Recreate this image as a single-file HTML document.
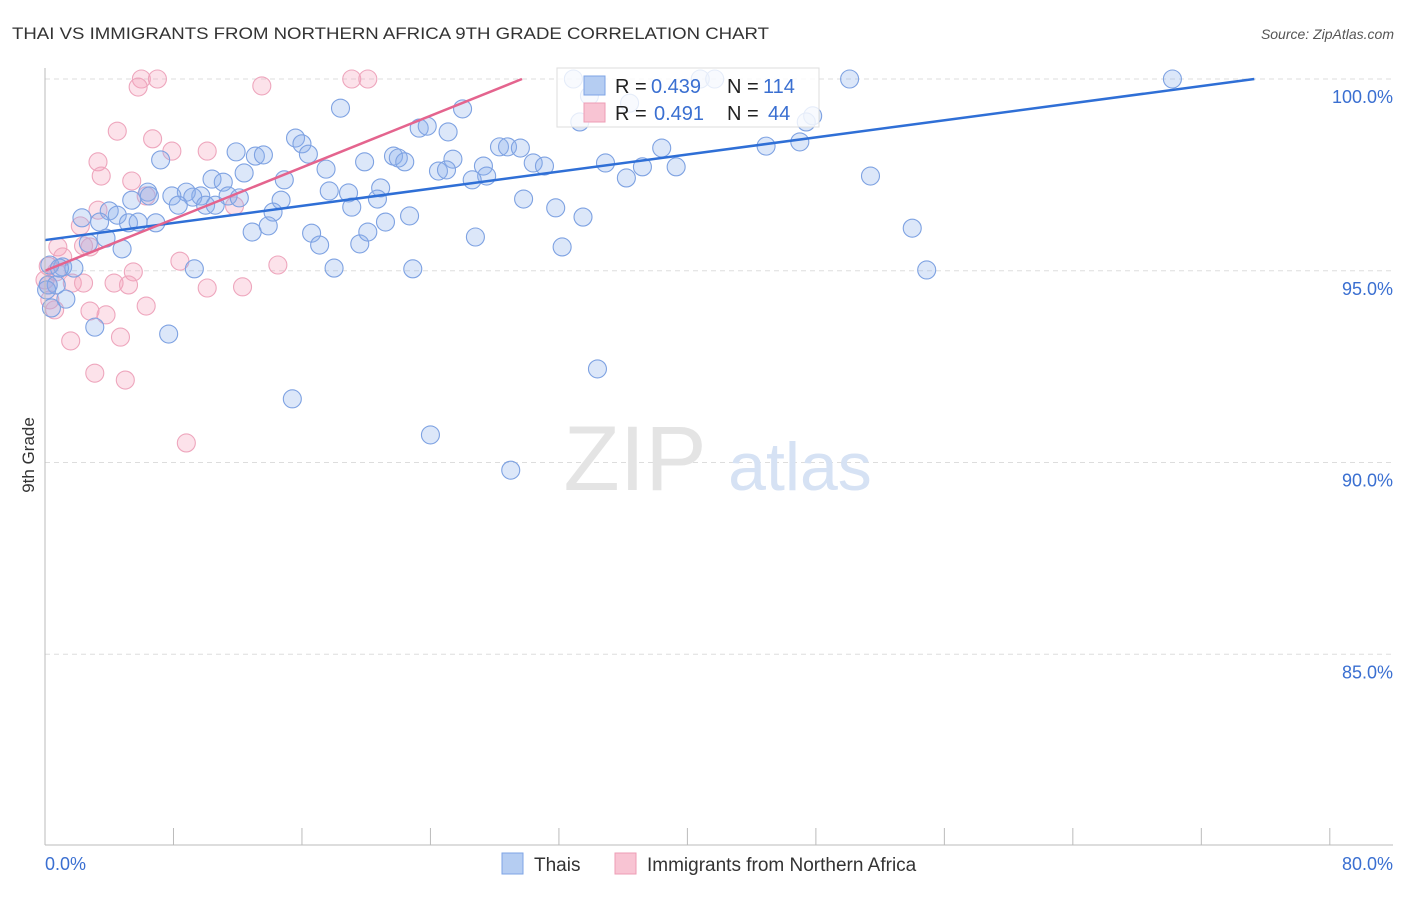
<!DOCTYPE html>
<html><head><meta charset="utf-8"><style>
body{margin:0;background:#fff;font-family:"Liberation Sans",sans-serif;}
svg text{font-family:"Liberation Sans",sans-serif;}
</style></head><body>
<svg id="chart" width="1406" height="892" xmlns="http://www.w3.org/2000/svg">
<text x="12" y="39" font-size="17" fill="#333" textLength="757" lengthAdjust="spacingAndGlyphs">THAI VS IMMIGRANTS FROM NORTHERN AFRICA 9TH GRADE CORRELATION CHART</text>
<text x="1394" y="39" font-size="14" fill="#555" font-style="italic" text-anchor="end">Source: ZipAtlas.com</text>
<g id="grid"></g>
<g id="watermark">
<text x="635" y="490" font-size="92" fill="#e4e4e4" font-family="Liberation Serif" text-anchor="middle">ZIP</text>
<text x="800" y="490" font-size="68" fill="#d6e2f4" text-anchor="middle">atlas</text>
</g>
<g id="pts"></g>
<g id="lines"></g>
<g id="axes"></g>
<text transform="translate(34,455) rotate(-90)" font-size="17" fill="#333" text-anchor="middle">9th Grade</text>
<g>
<rect x="557" y="68" width="262" height="59" fill="#fff" fill-opacity="0.8" stroke="#ddd"/>
<rect x="584" y="76" width="21" height="19" fill="#b5cdf2" stroke="#7ea4e6"/>
<rect x="584" y="103" width="21" height="19" fill="#f8c4d3" stroke="#ee9db5"/>
<text x="615" y="93" font-size="20" fill="#222">R =</text>
<text x="651" y="93" font-size="20" fill="#3a6fd1">0.439</text>
<text x="727" y="93" font-size="20" fill="#222">N =</text>
<text x="763" y="93" font-size="20" fill="#3a6fd1">114</text>
<text x="615" y="120" font-size="20" fill="#222">R =</text>
<text x="654" y="120" font-size="20" fill="#3a6fd1">0.491</text>
<text x="727" y="120" font-size="20" fill="#222">N =</text>
<text x="768" y="120" font-size="20" fill="#3a6fd1">44</text>
</g>
<g>
<rect x="502" y="853" width="21" height="21" fill="#b5cdf2" stroke="#7ea4e6"/>
<text x="534" y="871" font-size="19" fill="#333">Thais</text>
<rect x="615" y="853" width="21" height="21" fill="#f8c4d3" stroke="#ee9db5"/>
<text x="647" y="871" font-size="19" fill="#333">Immigrants from Northern Africa</text>
</g>
</svg>
<script>
const blueX=[32.9,40.8,41.7,50.1,70.2,36.4,18.4,26.0,33.9,47.8,47.4,33.3,23.3,23.8,25.1,15.6,16.0,11.9,13.1,13.6,16.4,7.2,21.7,22.0,22.4,19.9,25.4,28.3,28.8,29.6,30.4,31.1,34.9,38.4,44.9,47.0,37.2,39.3,24.5,25.0,27.3,27.5,26.6,36.2,51.4,12.4,10.4,11.1,14.9,17.5,17.7,18.9,20.9,20.7,19.1,14.7,14.2,11.4,12.1,9.7,8.8,9.2,7.9,8.3,10.0,10.6,6.4,6.5,5.4,4.0,4.5,2.3,3.4,5.2,5.8,6.9,12.9,13.9,16.6,17.1,19.6,20.1,21.2,22.7,29.8,31.8,33.5,26.8,32.2,54.0,3.8,4.8,2.7,1.1,1.8,0.3,0.2,0.7,1.3,0.4,3.1,9.3,18.0,22.9,54.9,7.7,34.4,15.4,24.0,29.0,0.1,0.9];
const blueY=[100,100,100,100,100,99.37,99.24,99.22,99.56,99.04,98.88,98.88,98.72,98.77,98.62,98.46,98.31,98.10,97.99,98.02,98.04,97.89,97.99,97.94,97.84,97.84,97.91,98.23,98.23,98.20,97.81,97.73,97.81,98.20,98.25,98.36,97.71,97.71,97.60,97.63,97.73,97.47,97.37,97.42,97.47,97.55,97.39,97.31,97.37,97.65,97.08,97.03,97.16,96.87,96.66,96.84,96.53,96.95,96.90,96.95,97.05,96.92,96.95,96.71,96.71,96.71,97.05,96.95,96.84,96.56,96.45,96.38,96.27,96.25,96.27,96.25,96.01,96.17,95.98,95.67,95.70,96.01,96.27,96.43,96.87,96.64,96.40,95.88,95.62,96.11,95.85,95.57,95.72,95.10,95.07,95.15,94.63,94.63,94.26,94.03,93.53,95.05,95.07,95.05,95.02,93.35,92.44,91.66,90.72,89.80,94.50,95.07];
const pinkX=[6.0,7.0,5.8,19.1,20.1,13.5,4.5,6.7,7.9,10.1,3.3,3.5,5.4,6.3,11.8,3.3,2.2,2.4,0.8,2.8,1.1,0.2,0.7,5.5,8.4,14.5,0.0,1.7,2.4,4.3,5.2,10.1,12.3,0.3,6.3,2.8,3.8,0.6,4.7,1.6,3.1,5.0,8.8,0.2];
const pinkY=[100,100,99.79,100,100,99.82,98.64,98.44,98.12,98.12,97.84,97.47,97.34,96.95,96.69,96.58,96.17,95.65,95.62,95.62,95.36,95.12,94.97,94.97,95.25,95.15,94.76,94.68,94.68,94.68,94.63,94.55,94.58,94.24,94.08,93.95,93.85,93.98,93.27,93.17,92.33,92.15,90.51,94.63];
const blueTrend=[[0,95.8],[75.3,100]];
const pinkTrend=[[0,95.0],[29.7,100]];
const yTicks=[100,95,90,85];
const yTickLabels=["100.0%","95.0%","90.0%","85.0%"];
const xTicks=[0,8,16,24,32,40,48,56,64,72,80];
const NS='http://www.w3.org/2000/svg';
const sx=v=>45+v*16.06;
const sy=v=>79+(100-v)*38.35;
function mk(tag,attrs,parent){const e=document.createElementNS(NS,tag);for(const k in attrs)e.setAttribute(k,attrs[k]);parent.appendChild(e);return e;}
const grid=document.getElementById('grid'),axes=document.getElementById('axes'),pts=document.getElementById('pts'),lines=document.getElementById('lines');
yTicks.forEach((t,i)=>{
 const l=mk('line',{x1:45,x2:1393,y1:sy(t),y2:sy(t),stroke:'#ddd','stroke-dasharray':'5,4'},grid);
 
 
 const tx=mk('text',{x:1393,y:sy(t)+24,'font-size':18,fill:'#3a6fd1','text-anchor':'end'},axes);
 tx.textContent=yTickLabels[i];
 
 
});
const ax=mk('line',{x1:45,x2:1393,y1:845,y2:845,stroke:'#bbb'},axes);


const ay=mk('line',{x1:45,x2:45,y1:68,y2:845,stroke:'#bbb'},axes);


xTicks.forEach(t=>{
 const l=mk('line',{x1:sx(t),x2:sx(t),y1:828,y2:845,stroke:'#bbb'},axes);
 
 
});
const x0=mk('text',{x:45,y:870,'font-size':18,fill:'#3a6fd1'},axes);x0.textContent='0.0%';


const x1=mk('text',{x:1393,y:870,'font-size':18,fill:'#3a6fd1','text-anchor':'end'},axes);x1.textContent='80.0%';


pinkX.forEach((v,i)=>{
 const c=mk('circle',{cx:sx(v),cy:sy(pinkY[i]),r:9,fill:'rgba(244,160,185,0.3)',stroke:'#eea6bd','stroke-width':1.1},pts);
 
 
});
blueX.forEach((v,i)=>{
 const c=mk('circle',{cx:sx(v),cy:sy(blueY[i]),r:9,fill:'rgba(140,175,235,0.3)',stroke:'#7ea2e2','stroke-width':1.1},pts);
 
 
});
const bl=mk('line',{x1:sx(blueTrend[0][0]),y1:sy(blueTrend[0][1]),x2:sx(blueTrend[1][0]),y2:sy(blueTrend[1][1]),stroke:'#2f6fd6','stroke-width':2.5},lines);


const pl=mk('line',{x1:sx(pinkTrend[0][0]),y1:sy(pinkTrend[0][1]),x2:sx(pinkTrend[1][0]),y2:sy(pinkTrend[1][1]),stroke:'#e4648e','stroke-width':2.5},lines);


</script>
</body></html>
